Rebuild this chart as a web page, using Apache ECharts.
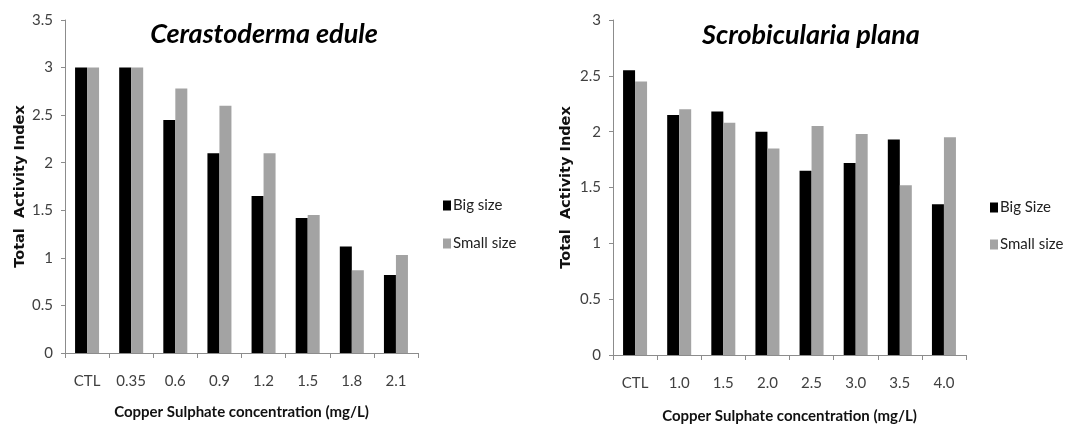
<!DOCTYPE html>
<html>
<head>
<meta charset="utf-8">
<script src="https://cdn.jsdelivr.net/npm/echarts@6/dist/echarts.min.js"></script>
<style>
html,body{margin:0;padding:0;background:#fff;}
#c{width:1073px;height:429px;}
</style>
</head>
<body>
<div id="c"></div>
<script>
var titleLeft = 'Cerastoderma edule';
var titleRight = 'Scrobicularia plana';
var catsLeft = ['CTL', '0.35', '0.6', '0.9', '1.2', '1.5', '1.8', '2.1'];
var catsRight = ['CTL', '1.0', '1.5', '2.0', '2.5', '3.0', '3.5', '4.0'];
var bigLeft = [3, 3, 2.45, 2.1, 1.65, 1.42, 1.12, 0.82];
var smallLeft = [3, 3, 2.78, 2.6, 2.1, 1.45, 0.87, 1.03];
var bigRight = [2.55, 2.15, 2.18, 2.0, 1.65, 1.72, 1.93, 1.35];
var smallRight = [2.45, 2.2, 2.08, 1.85, 2.05, 1.98, 1.52, 1.95];
var legendLeft = ['Big size', 'Small size'];
var legendRight = ['Big Size', 'Small size '];
var xName = 'Copper Sulphate concentration (mg/L)';
var yName = 'Total  Activity Index';

var FONT = 'Lato';
var axisColor = '#8c8c8c';
var labelColor = '#404040';

function xAx(idx, cats, gap) {
  return {
    type: 'category', gridIndex: idx, data: cats,
    axisLine: {lineStyle: {color: axisColor, width: 1}},
    axisTick: {show: true, length: 5, lineStyle: {color: axisColor}},
    axisLabel: {color: labelColor, fontFamily: FONT, fontSize: 15, margin: 21},
    name: xName, nameLocation: 'middle', nameGap: gap,
    nameTextStyle: {color: '#111', fontFamily: FONT, fontSize: 15, fontWeight: 'bold'}
  };
}
function yAx(idx, max, gap) {
  return {
    type: 'value', gridIndex: idx, min: 0, max: max, interval: 0.5,
    axisLine: {show: true, lineStyle: {color: axisColor, width: 1}},
    axisTick: {show: true, length: 4, lineStyle: {color: axisColor}},
    splitLine: {show: false},
    axisLabel: {color: labelColor, fontFamily: FONT, fontSize: 15, margin: 12},
    name: yName, nameLocation: 'middle', nameGap: gap,
    nameTextStyle: {color: '#111', fontFamily: 'DejaVu Sans', fontSize: 14.5, fontWeight: 'bold'}
  };
}
function bar(name, xi, data, color) {
  return {
    type: 'bar', name: name, xAxisIndex: xi, yAxisIndex: xi, data: data,
    barWidth: 12, barGap: '0%', itemStyle: {color: color}, silent: true
  };
}

var chart = echarts.init(document.getElementById('c'), null, {renderer: 'canvas'});
chart.setOption({
  animation: false,
  backgroundColor: '#fff',
  title: [
    {text: titleLeft, left: 259, top: 16, textAlign: 'center',
     textStyle: {fontFamily: FONT, fontStyle: 'italic', fontWeight: 'bold', fontSize: 27, color: '#000'}},
    {text: titleRight, left: 806, top: 17, textAlign: 'center',
     textStyle: {fontFamily: FONT, fontStyle: 'italic', fontWeight: 'bold', fontSize: 27, color: '#000'}}
  ],
  legend: [
    {data: legendLeft, orient: 'vertical', left: 443, top: 198, padding: 0, itemWidth: 8, itemHeight: 10, itemGap: 23,
     icon: 'rect', textStyle: {fontFamily: FONT, fontSize: 15, color: '#222', padding: [0, 0, 0, -3]}},
    {data: legendRight, orient: 'vertical', left: 990, top: 200, padding: 0, itemWidth: 8, itemHeight: 10, itemGap: 22,
     icon: 'rect', textStyle: {fontFamily: FONT, fontSize: 15, color: '#222', padding: [0, 0, 0, -3]}}
  ],
  grid: [
    {left: 65, top: 20, width: 353, height: 333},
    {left: 613, top: 20, width: 353, height: 335.5}
  ],
  xAxis: [xAx(0, catsLeft, 52), xAx(1, catsRight, 54)],
  yAxis: [yAx(0, 3.5, 36), yAx(1, 3, 39)],
  series: [
    bar(legendLeft[0], 0, bigLeft, '#000000'),
    bar(legendLeft[1], 0, smallLeft, '#a3a3a3'),
    bar(legendRight[0], 1, bigRight, '#000000'),
    bar(legendRight[1], 1, smallRight, '#a3a3a3')
  ]
});
</script>
</body>
</html>
